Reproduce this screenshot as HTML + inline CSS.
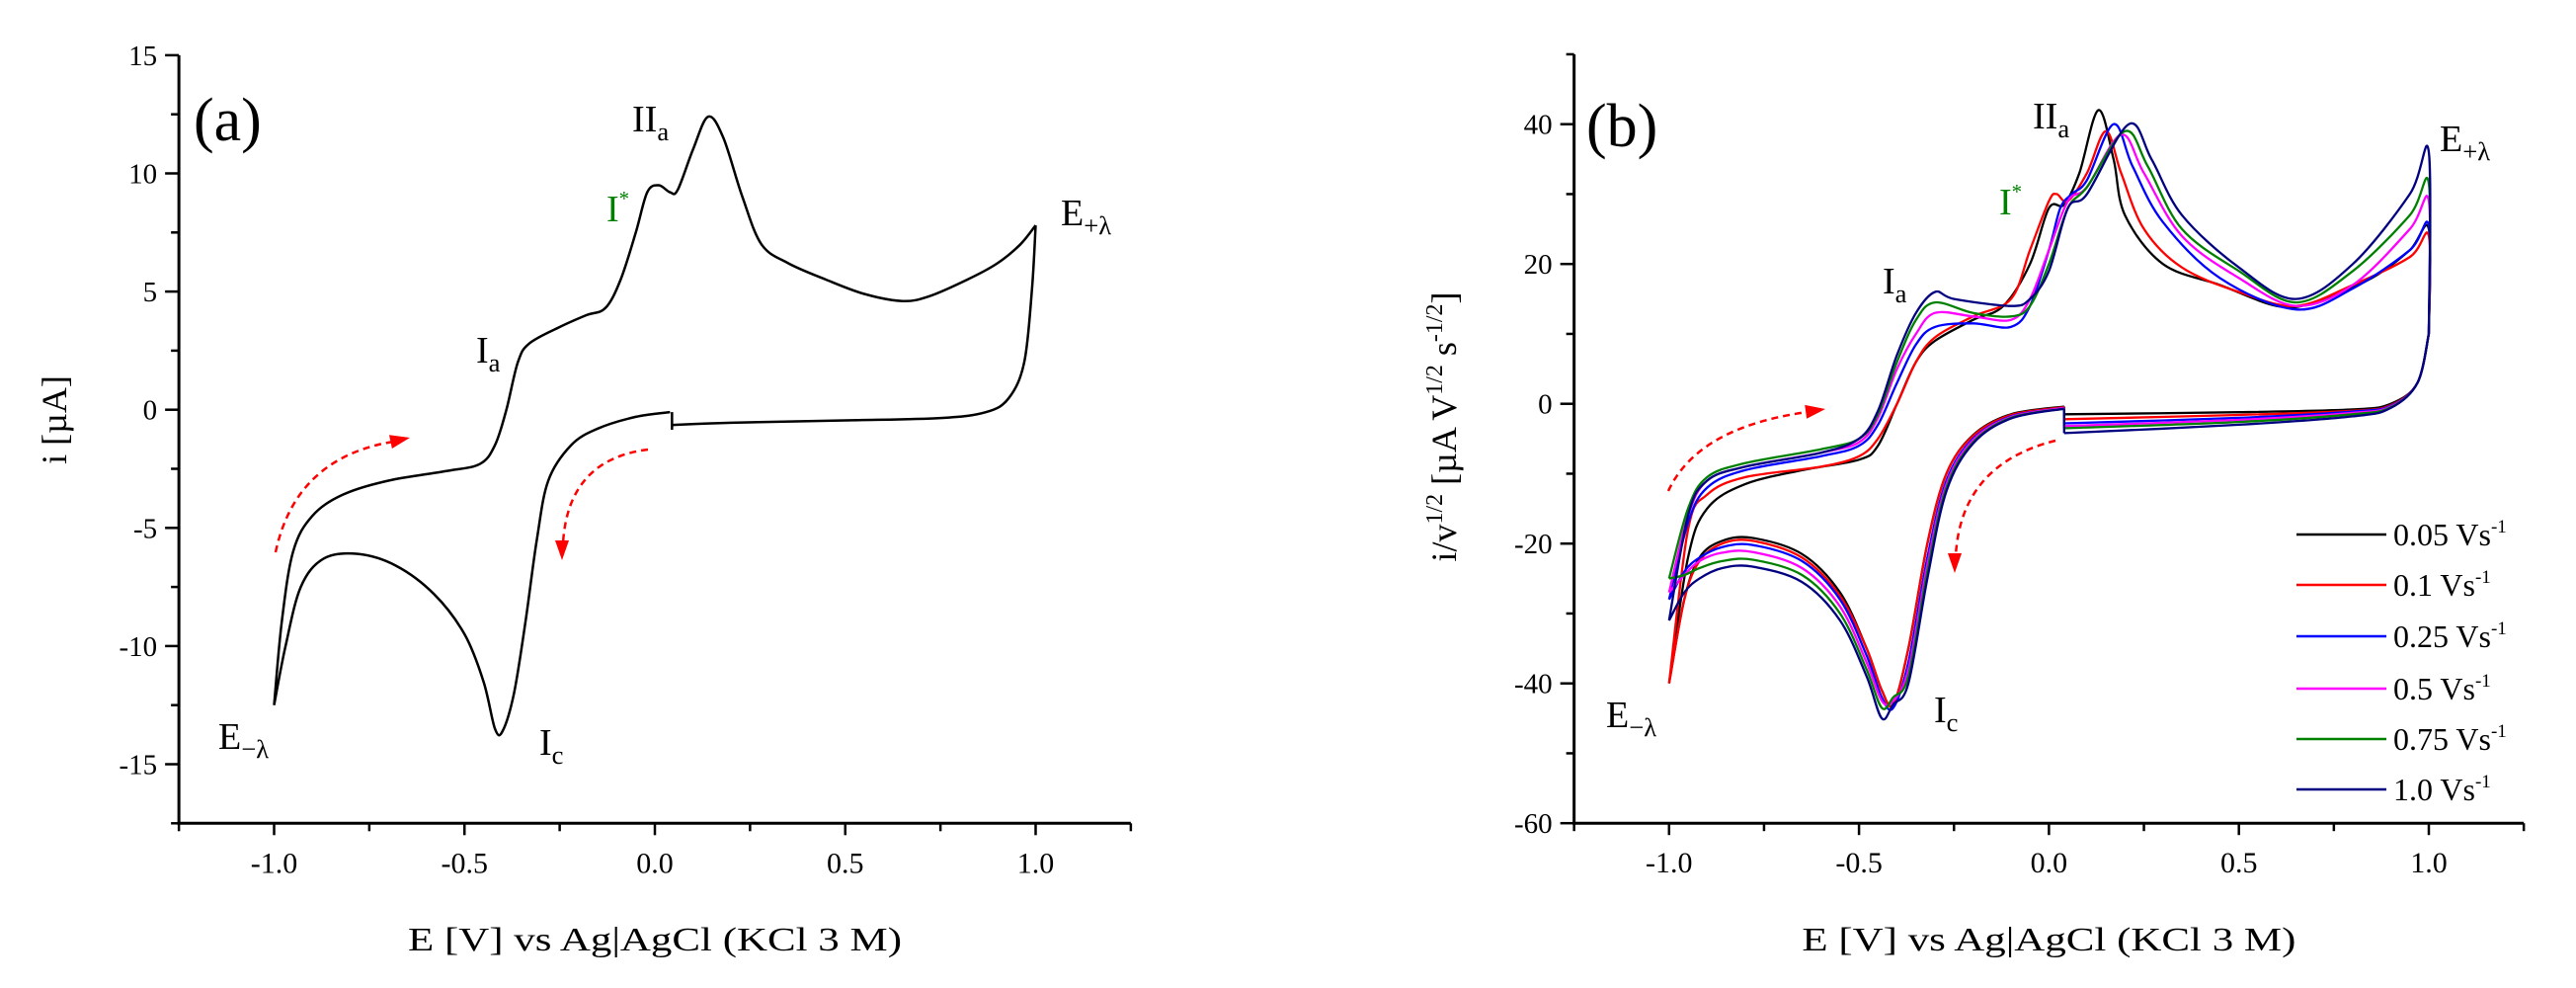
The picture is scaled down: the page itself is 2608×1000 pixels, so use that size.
<!DOCTYPE html>
<html><head><meta charset="utf-8"><style>
html,body{margin:0;padding:0;background:#fff;}
svg text{font-family:"Liberation Serif",serif;fill:#000;}
</style></head><body>
<svg id="fig" xmlns="http://www.w3.org/2000/svg" width="2608" height="995" viewBox="0 0 2608 995">
<rect width="2608" height="995" fill="#fff"/>
<g id="pa"></g>
<g id="pb"></g>
</svg>
<script>
// ---- Panel (a) data ----
const aE = [0.04,-0.05,-0.15,-0.22,-0.28,-0.31,-0.34,-0.37,-0.40,-0.42,-0.45,-0.5,-0.58,-0.68,-0.78,-0.87,-0.93,-0.97,-1.0,
 -0.98,-0.95,-0.9,-0.82,-0.7,-0.55,-0.46,-0.42,-0.39,-0.36,-0.33,-0.25,-0.18,-0.13,-0.09,-0.05,-0.02,0.01,0.04,0.06,0.1,0.14,0.18,0.23,0.28,0.35,0.45,0.55,0.65,0.72,0.82,0.9,0.96,1.0,
 0.99,0.97,0.93,0.87,0.75,0.5,0.2,0.045];
const aI = [-0.1,-0.3,-0.8,-1.5,-3,-5.5,-9,-12,-13.6,-13.5,-11.5,-9.5,-7.8,-6.6,-6.1,-6.3,-7.5,-10,-12.5,
 -9,-6,-4.5,-3.6,-3,-2.6,-2.3,-1.5,0,2,2.8,3.5,4,4.3,5.5,7.5,9.2,9.5,9.2,9.3,11,12.4,11.5,9,7,6.2,5.5,4.9,4.6,4.8,5.5,6.2,7,7.8,
 5,2,0.5,-0.1,-0.35,-0.45,-0.55,-0.65];
const aStepE = [0.045,0.045];
const aStepI = [-0.1,-0.85];
const aYTicks = [15,10,5,0,-5,-10,-15];
const aYTickLabels = ["15","10","5","0","-5","-10","-15"];
const xTicks = [-1.0,-0.5,0.0,0.5,1.0];
const xTickLabels = ["-1.0","-0.5","0.0","0.5","1.0"];

// ---- Panel (b) data ----
const bSeriesNames = ["0.05 Vs","0.1 Vs","0.25 Vs","0.5 Vs","0.75 Vs","1.0 Vs"];
const bColors = ["#000000","#ff0000","#0000ff","#ff00ff","#008000","#000080"];
const bCathE = [0.04,-0.1,-0.2,-0.27,-0.32,-0.37,-0.41,-0.44,-0.48,-0.55,-0.65,-0.78,-0.86,-0.92,-0.96,-1.0];
const bCath0 = [-0.4,-1.5,-4.5,-10,-20,-35,-43,-41,-35,-27,-21.5,-19.2,-19.6,-22,-28,-40];
const bCath1 = [-0.5,-1.6,-4.6,-10,-20,-35,-43,-41,-35,-27.5,-22,-19.6,-20,-22.5,-28,-40];
const bCath2 = [-0.6,-1.8,-5,-11,-22,-37,-43.5,-42,-36,-28,-22.5,-20.2,-20.5,-22,-24,-28];
const bCath3 = [-0.6,-1.9,-5.2,-11.5,-23,-38,-42.5,-42.5,-37,-29,-23.5,-21.2,-21.3,-22.5,-24.5,-27];
const bCath4 = [-0.7,-2,-5.5,-12,-24,-39,-42,-43.5,-38,-30,-24.5,-22.3,-22.5,-23.5,-24.5,-25];
const bCath5 = [-0.7,-2.1,-5.7,-12.5,-25,-40,-43,-45,-39,-31,-25.5,-23.3,-23.5,-25,-27,-31];
const bAnodE0 = [-1.0,-0.95,-0.9,-0.8,-0.65,-0.5,-0.45,-0.4,-0.35,-0.3,-0.2,-0.12,-0.05,0.0,0.04,0.08,0.13,0.17,0.2,0.3,0.45,0.6,0.7,0.85,0.95,1.0];
const bAnod0 = [-40,-22,-15,-11.5,-9.5,-8,-6,0,6,9,12,14,20,28,28.5,33,42,35,27,20,17,14,14.5,18,22,25];
const bAnodE1 = [-1.0,-0.95,-0.9,-0.8,-0.6,-0.5,-0.45,-0.4,-0.35,-0.3,-0.2,-0.1,-0.05,0.0,0.02,0.05,0.1,0.15,0.19,0.25,0.35,0.5,0.65,0.8,0.95,1.0];
const bAnod1 = [-40,-18,-13,-10.5,-9,-7.5,-5,0,6,9.5,12.5,15,22,29,30,29,33,39,33,25,19.5,16,14,17,21,24];
const bAnodE2 = [-1.0,-0.95,-0.9,-0.8,-0.6,-0.5,-0.45,-0.4,-0.35,-0.3,-0.2,-0.1,-0.05,0.0,0.03,0.06,0.1,0.17,0.22,0.3,0.45,0.65,0.8,0.95,1.0];
const bAnod2 = [-28,-17,-12,-9.5,-7.5,-6,-3,3,8.5,11,11.5,11,14,22,28,30,32,40,34,26,18,13.5,16.5,22,25.5];
const bAnodE3 = [-1.0,-0.95,-0.9,-0.8,-0.6,-0.5,-0.45,-0.4,-0.35,-0.3,-0.2,-0.1,-0.05,0.0,0.05,0.1,0.19,0.25,0.35,0.5,0.65,0.8,0.95,1.0];
const bAnod3 = [-27,-16,-11,-9,-7,-5.5,-2,5,10,13,12.5,12,15,22,29,31,38.5,33,24,18,14,17,25,29];
const bAnodE4 = [-1.0,-0.95,-0.9,-0.8,-0.6,-0.5,-0.45,-0.4,-0.35,-0.3,-0.2,-0.1,-0.05,0.0,0.05,0.1,0.2,0.26,0.35,0.5,0.65,0.8,0.95,1.0];
const bAnod4 = [-25,-15,-10.5,-8.5,-6.5,-5,-1.5,6,12,14.5,13,12.5,14,20,28,31,39,34,25,19,14.5,19,27,31.5];
const bAnodE5 = [-1.0,-0.95,-0.9,-0.8,-0.6,-0.5,-0.45,-0.4,-0.35,-0.3,-0.25,-0.1,-0.05,0.0,0.05,0.1,0.21,0.27,0.35,0.5,0.65,0.8,0.95,1.0];
const bAnod5 = [-31,-16,-11,-9,-7,-5,-1,7,13,16,15,14,15,19,28,30,40,35,27,19.5,15,20,30,36];
const bRetE = [1.0,0.97,0.9,0.8,0.5,0.04];
const bRet0 = [10,3,0,-0.8,-1.2,-1.5];
const bRet1 = [10,3,-0.2,-1,-1.6,-2.2];
const bRet2 = [10,3,-0.3,-1.1,-2,-2.8];
const bRet3 = [10,3,-0.4,-1.3,-2.3,-3.2];
const bRet4 = [10,3,-0.5,-1.5,-2.6,-3.5];
const bRet5 = [10,3,-0.6,-1.8,-3,-4.2];
const bYTicks = [40,20,0,-20,-40,-60];
const bYTickLabels = ["40","20","0","-20","-40","-60"];

const NS = "http://www.w3.org/2000/svg";
function mk(parent, tag, attrs){const e=document.createElementNS(NS,tag);for(const k in attrs)e.setAttribute(k,attrs[k]);parent.appendChild(e);return e;}

// axis functions
const ax = {x:v=>277.5+(v+1)*385.5, y:v=>55.9+(15-v)*23.92};
const bx = {x:v=>1689.8+(v+1)*384.6, y:v=>125.7+(40-v)*7.075};

function smoothPath(pts){
  const segs=[];let cur=[pts[0]];let dir=0;
  for(let i=1;i<pts.length;i++){
    const d=Math.sign(pts[i][0]-pts[i-1][0]);
    if(dir!==0&&d!==0&&d!==dir){segs.push(cur);cur=[pts[i-1]];}
    if(d!==0)dir=d;
    cur.push(pts[i]);
  }
  segs.push(cur);
  let s="";
  for(const g of segs){
    s+="M"+g[0][0].toFixed(1)+","+g[0][1].toFixed(1);
    for(let i=0;i<g.length-1;i++){
      const p0=g[Math.max(0,i-1)],p1=g[i],p2=g[i+1],p3=g[Math.min(g.length-1,i+2)];
      const c1=[p1[0]+(p2[0]-p0[0])/6,p1[1]+(p2[1]-p0[1])/6];
      const c2=[p2[0]-(p3[0]-p1[0])/6,p2[1]-(p3[1]-p1[1])/6];
      s+="C"+c1[0].toFixed(1)+","+c1[1].toFixed(1)+" "+c2[0].toFixed(1)+","+c2[1].toFixed(1)+" "+p2[0].toFixed(1)+","+p2[1].toFixed(1);
    }
  }
  return s;
}
function toPts(A,E,I){return E.map((e,i)=>[A.x(e),A.y(I[i])]);}

function drawAxes(g,A,yMin,yMax,yMajor,yMinor,yTicks,yLabels){
  const x0=A.x(-1.25),x1=A.x(1.25),yb=A.y(yMin),yt=A.y(yMax);
  const yl=mk(g,"line",{x1:x0,y1:yt,x2:x0,y2:yb+1.5,stroke:"#000","stroke-width":3});
  
  
  const xl=mk(g,"line",{x1:x0-1.5,y1:yb,x2:x1,y2:yb,stroke:"#000","stroke-width":3});
  
  
  for(let v=yMin;v<=yMax+1e-9;v+=yMinor){
    const major=Math.abs(Math.round(v/yMajor)*yMajor-v)<1e-6;
    const t=mk(g,"line",{x1:x0-(major?14:8),y1:A.y(v),x2:x0,y2:A.y(v),stroke:"#000","stroke-width":2.5});
    
    
  }
  yTicks.forEach((v,i)=>{
    const t=mk(g,"text",{x:x0-22,y:A.y(v)+10,"text-anchor":"end","font-size":29});
    t.textContent=yLabels[i];
    
    
  });
  for(let v=-1.25;v<=1.25+1e-9;v+=0.25){
    const major=Math.abs(Math.round(v*2)/2-v)<1e-6;
    const t=mk(g,"line",{x1:A.x(v),y1:yb,x2:A.x(v),y2:yb+(major?12:8),stroke:"#000","stroke-width":2.5});
    
    
  }
  xTicks.forEach((v,i)=>{
    const t=mk(g,"text",{x:A.x(v),y:yb+50,"text-anchor":"middle","font-size":30});
    t.textContent=xTickLabels[i];
    
    
  });
  const xt=mk(g,"text",{x:(x0+x1)/2,y:962,"text-anchor":"middle","font-size":34,textLength:500,lengthAdjust:"spacingAndGlyphs"});
  xt.textContent="E [V] vs Ag|AgCl (KCl 3 M)";
  
  
}
function label(g,x,y,main,sub,color,name,size,sup){
  const t=mk(g,"text",{x:x,y:y,"font-size":size||38,fill:color||"#000"});
  t.style.fill=color||"#000";
  const a=mk(t,"tspan",{});a.textContent=main;
  if(sub){const b=mk(t,"tspan",{"font-size":(size||38)*0.7,dy:9});b.textContent=sub;}
  if(sup){const b=mk(t,"tspan",{"font-size":(size||38)*0.55,dy:-16});b.textContent=sup;}
  
  
  return t;
}
function arrow(g,d,tip,ang,name){
  const p=mk(g,"path",{d:d,fill:"none",stroke:"#ff0000","stroke-width":2.5,"stroke-dasharray":"7,5"});
  
  
  const h=mk(g,"polygon",{points:"0,0 -20,-7 -20,7",fill:"#ff0000",transform:`translate(${tip[0]},${tip[1]}) rotate(${ang})`});
  
  
}

// ---- draw panel a ----
const ga=document.getElementById("pa");
drawAxes(ga,ax,-17.5,15,5,2.5,aYTicks,aYTickLabels);
const ya=mk(ga,"text",{transform:"translate(67,425) rotate(-90)","text-anchor":"middle","font-size":36});
ya.textContent="i [µA]";


const ca=mk(ga,"path",{d:smoothPath(toPts(ax,aE,aI)),fill:"none",stroke:"#000","stroke-width":2.5,"stroke-linejoin":"round"});


const sa=mk(ga,"line",{x1:ax.x(aStepE[0]),y1:ax.y(aStepI[0]),x2:ax.x(aStepE[1]),y2:ax.y(aStepI[1]),stroke:"#000","stroke-width":2.5});


label(ga,196,142,"(a)","",null,"panel-a-label",62);
label(ga,640,133,"II","a",null,"peak-IIa-label");
label(ga,614,224,"I","",'#008000',"peak-Istar-label",38,"*");
label(ga,482,367,"I","a",null,"peak-Ia-label");
label(ga,1074,228,"E","+λ",null,"e-plus-lambda-label");
label(ga,221,758,"E","−λ",null,"e-minus-lambda-label");
label(ga,546,764,"I","c",null,"peak-Ic-label");
arrow(ga,"M279,559 Q300,460 405,446",[415,443],-12,"scan-direction-arrow-forward");
arrow(ga,"M656,455 Q575,465 570,550",[569,567],90,"scan-direction-arrow-reverse");

// ---- draw panel b ----
const gb=document.getElementById("pb");
drawAxes(gb,bx,-60,50,20,10,bYTicks,bYTickLabels);
const yb=mk(gb,"text",{transform:"translate(1474,432) rotate(-90)","text-anchor":"middle","font-size":36});


(function(){
  const parts=[["i/v",0],["1/2",-14],[" [µA V",14],["1/2",-14],[" s",14],["-1/2",-14],["]",14]];
  parts.forEach(p=>{const s=mk(yb,"tspan",{dy:p[1]});if(p[1]<0)s.setAttribute("font-size",24);s.textContent=p[0];});
})();
const cathSets=[bCath0,bCath1,bCath2,bCath3,bCath4,bCath5];
const anodE=[bAnodE0,bAnodE1,bAnodE2,bAnodE3,bAnodE4,bAnodE5];
const anodI=[bAnod0,bAnod1,bAnod2,bAnod3,bAnod4,bAnod5];
const retSets=[bRet0,bRet1,bRet2,bRet3,bRet4,bRet5];
for(let s=0;s<6;s++){
  const pts=toPts(bx,bCathE,cathSets[s]).concat(toPts(bx,anodE[s],anodI[s]).slice(1)).concat(toPts(bx,bRetE,retSets[s]));
  const p=mk(gb,"path",{d:smoothPath(pts),fill:"none",stroke:bColors[s],"stroke-width":2.3,"stroke-linejoin":"round"});
  
  
  const st=mk(gb,"line",{x1:bx.x(0.04),y1:bx.y(cathSets[s][0]),x2:bx.x(0.04),y2:bx.y(retSets[s][retSets[s].length-1]),stroke:bColors[s],"stroke-width":2.3});
  
  
}
// legend
const lg=mk(gb,"g",{});


const legY=[541,592,644,697,748,799];
for(let s=0;s<6;s++){
  const l=mk(lg,"line",{x1:2325,y1:legY[s],x2:2416,y2:legY[s],stroke:bColors[s],"stroke-width":2.5});
  
  
  const t=mk(lg,"text",{x:2423,y:legY[s]+11,"font-size":32});
  const a=mk(t,"tspan",{});a.textContent=bSeriesNames[s];
  const b=mk(t,"tspan",{"font-size":19,dy:-13});b.textContent="-1";
  
  
}
label(gb,1606,148,"(b)","",null,"panel-b-label",62);
label(gb,2058,130,"II","a",null,"peak-IIa-label");
label(gb,2024,217,"I","",'#008000',"peak-Istar-label",38,"*");
label(gb,1906,297,"I","a",null,"peak-Ia-label");
label(gb,2470,153,"E","+λ",null,"e-plus-lambda-label");
label(gb,1626,736,"E","−λ",null,"e-minus-lambda-label");
label(gb,1958,731,"I","c",null,"peak-Ic-label");
arrow(gb,"M1689,497 Q1720,430 1838,416",[1848,414],-8,"scan-direction-arrow-forward");
arrow(gb,"M2081,446 Q1985,470 1980,563",[1979,580],90,"scan-direction-arrow-reverse");
</script>
</body></html>
